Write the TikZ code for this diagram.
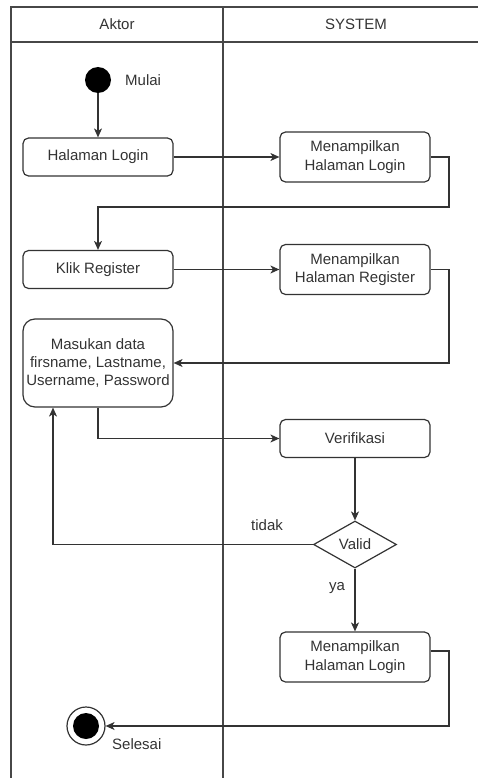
\documentclass[tikz,border=0pt]{standalone}
\usepackage{fontspec}
\setmainfont{Liberation Sans}
\usetikzlibrary{arrows.meta,shapes.geometric}
\definecolor{ink}{HTML}{333333}
\tikzset{
  flow/.style={draw=ink, line width=1.2pt, -{Stealth[length=9pt,width=8pt,inset=2.5pt]}},
  lane/.style={draw=ink!90, line width=1.2pt},
  act/.style={draw=ink, line width=1.2pt, rounded corners=5.5pt, minimum width=150pt,
    minimum height=38pt, align=center, inner sep=0pt, text=ink},
  tallact/.style={act, minimum height=50pt},
  lbl/.style={text=ink, inner sep=0pt},
}
\begin{document}
\begin{tikzpicture}[x=1pt,y=-1pt,font=\fontsize{15}{18.3}\selectfont]
\useasboundingbox (0,0) rectangle (478,778);

% swimlane frame
\draw[lane] (11,778) -- (11,7) -- (478,7);
\draw[lane] (11,42) -- (478,42);
\draw[lane] (223,7) -- (223,778);
\node[lbl] (hActor) at (117,24.5) {Aktor};
\node[lbl] (hSystem) at (356,24.5) {SYSTEM};

% start
\node[circle, fill=black, minimum size=26pt, inner sep=0pt] (start) at (98,80) {};
\node[lbl, anchor=west] (mulai) at (125,80) {Mulai};

% activities
\node[act] (login) at (98,157) {Halaman Login};
\node[tallact] (sysLogin) at (355,157) {Menampilkan\\Halaman Login};
\node[act] (register) at (98,269.5) {Klik Register};
\node[tallact] (sysRegister) at (355,269.5) {Menampilkan\\Halaman Register};
\node[act, minimum height=88pt, rounded corners=12pt] (input) at (98,363)
  {Masukan data\\firsname, Lastname,\\Username, Password};
\node[act] (verify) at (355,438.5) {Verifikasi};
\node[diamond, draw=ink, line width=1.2pt, minimum width=83pt, minimum height=47pt,
  inner sep=0pt, text=ink] (valid) at (355,544.5) {Valid};
\node[tallact] (sysLogin2) at (355,657) {Menampilkan\\Halaman Login};

% end
\node[circle, draw=ink, line width=1.2pt, minimum size=38pt, inner sep=0pt] (end) at (86,726) {};
\node[circle, fill=black, minimum size=26pt, inner sep=0pt] (endDot) at (86,726) {};
\node[lbl, anchor=west] (selesai) at (112,744) {Selesai};

% routing points
\coordinate (r1) at (449,207);
\coordinate (r2) at (449,363);
\coordinate (r3) at (449,726);
\coordinate (t1) at (53,544.5);

% connectors
\draw[flow] (start) -- (login.north);
\draw[flow] (login.east) -- (sysLogin.west);
\draw[flow] (sysLogin.east) -| (r1) -| (register.north);
\draw[flow] (register.east) -- (sysRegister.west);
\draw[flow] (sysRegister.east) -| (r2) -- (input.east);
\draw[flow] (input.south) |- (verify.west);
\draw[flow] (verify.south) -- (valid.north);
\draw[flow] (valid.west) -- (t1) -- (t1 |- input.south);
\draw[flow] (valid.south) -- (sysLogin2.north);
\draw[flow] ([yshift=6pt]sysLogin2.east) -| (r3) -- (end.east);

\node[lbl] (tidak) at (267,525) {tidak};
\node[lbl] (ya) at (337,588) {ya};
\end{tikzpicture}
\end{document}
